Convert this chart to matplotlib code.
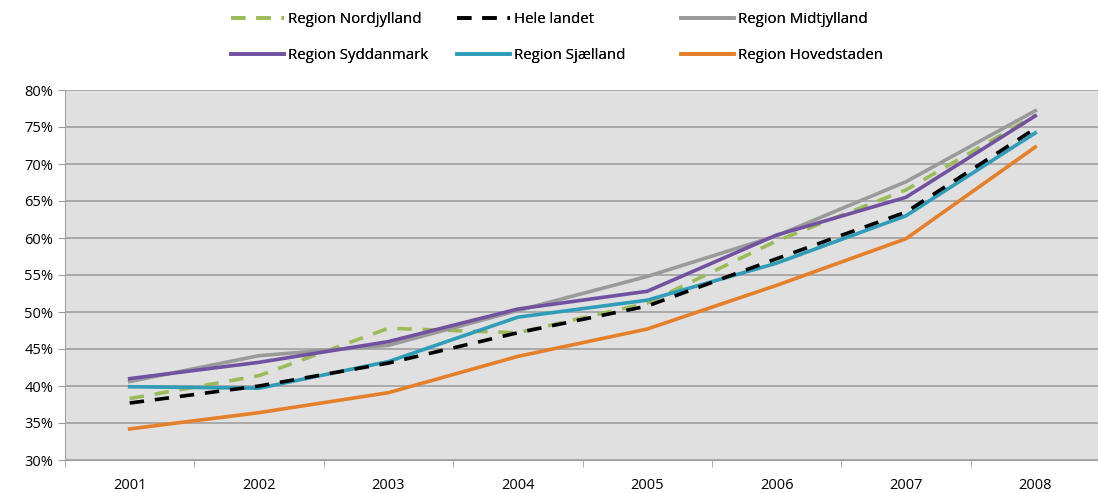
import matplotlib.pyplot as plt
import numpy as np

years = ['2001', '2002', '2003', '2004', '2005', '2006', '2007', '2008']

nordjylland = [38.3, 41.4, 47.8, 47.2, 51.2, 59.6, 66.5, 76.6]
hele_landet = [37.7, 40.0, 43.1, 47.2, 50.8, 57.2, 63.5, 74.8]
midtjylland = [40.6, 44.1, 45.5, 50.2, 54.8, 60.3, 67.6, 77.2]
syddanmark = [41.0, 43.2, 46.0, 50.4, 52.8, 60.4, 65.5, 76.5]
sjaelland = [39.9, 39.7, 43.3, 49.3, 51.6, 56.6, 63.0, 74.2]
hovedstaden = [34.2, 36.4, 39.1, 44.0, 47.7, 53.6, 59.9, 72.3]

plt.rcParams['font.family'] = ['Open Sans', 'DejaVu Sans']

W, H = 1098, 493
fig = plt.figure(figsize=(W / 100, H / 100), dpi=100)
ax = fig.add_axes([65/W, 33/H, 1035/W, 370/H])
ax.set_facecolor('#e0e0e0')

x = np.arange(len(years))
lw = 2.6
h_n, = ax.plot(x, nordjylland, color='#9bbb59', lw=lw, ls=(0, (4, 3)), label='Region Nordjylland')
h_m, = ax.plot(x, midtjylland, color='#9a9a9a', lw=lw, label='Region Midtjylland')
h_s, = ax.plot(x, syddanmark, color='#7151a0', lw=lw, label='Region Syddanmark')
h_sj, = ax.plot(x, sjaelland, color='#2f9db8', lw=lw, label='Region Sjælland')
h_h, = ax.plot(x, hovedstaden, color='#e47f2a', lw=lw, label='Region Hovedstaden')
h_l, = ax.plot(x, hele_landet, color='black', lw=lw, ls=(0, (4, 3)), label='Hele landet')

ax.set_xlim(-0.5, len(years) - 0.5)
ax.set_ylim(30, 80)
ax.set_yticks(np.arange(30, 81, 5))
ax.set_yticklabels([f'{v}%' for v in range(30, 81, 5)], fontsize=10.5)
ax.set_xticks(x)
ax.set_xticklabels(years, fontsize=10.5)
ax.set_xticks(np.arange(-0.5, len(years)), minor=True)
ax.tick_params(axis='x', which='major', length=0, pad=13)
ax.tick_params(axis='x', which='minor', length=5, color='#a0a0a0')
ax.tick_params(axis='y', length=5, color='#a0a0a0')
ax.grid(axis='y', color='#a0a0a0', lw=1.2)
ax.set_axisbelow(True)
for side in ['top', 'right']:
    ax.spines[side].set_visible(False)
for side in ['left', 'bottom']:
    ax.spines[side].set_color('#a0a0a0')

# legend: three columns placed like the original
columns = [([h_n, h_s], 231), ([h_l, h_sj], 457), ([h_m, h_h], 681)]
for hs, xpx in columns:
    leg = fig.legend(handles=hs, labels=[h.get_label() for h in hs],
                     loc='upper left', bbox_to_anchor=(xpx / W, 1 - 12 / H),
                     frameon=False, fontsize=10.8, handlelength=3.5,
                     handletextpad=0.3, labelspacing=1.4,
                     borderpad=0, borderaxespad=0)
    fig.add_artist(leg)

fig.savefig('out.png', dpi=100)
